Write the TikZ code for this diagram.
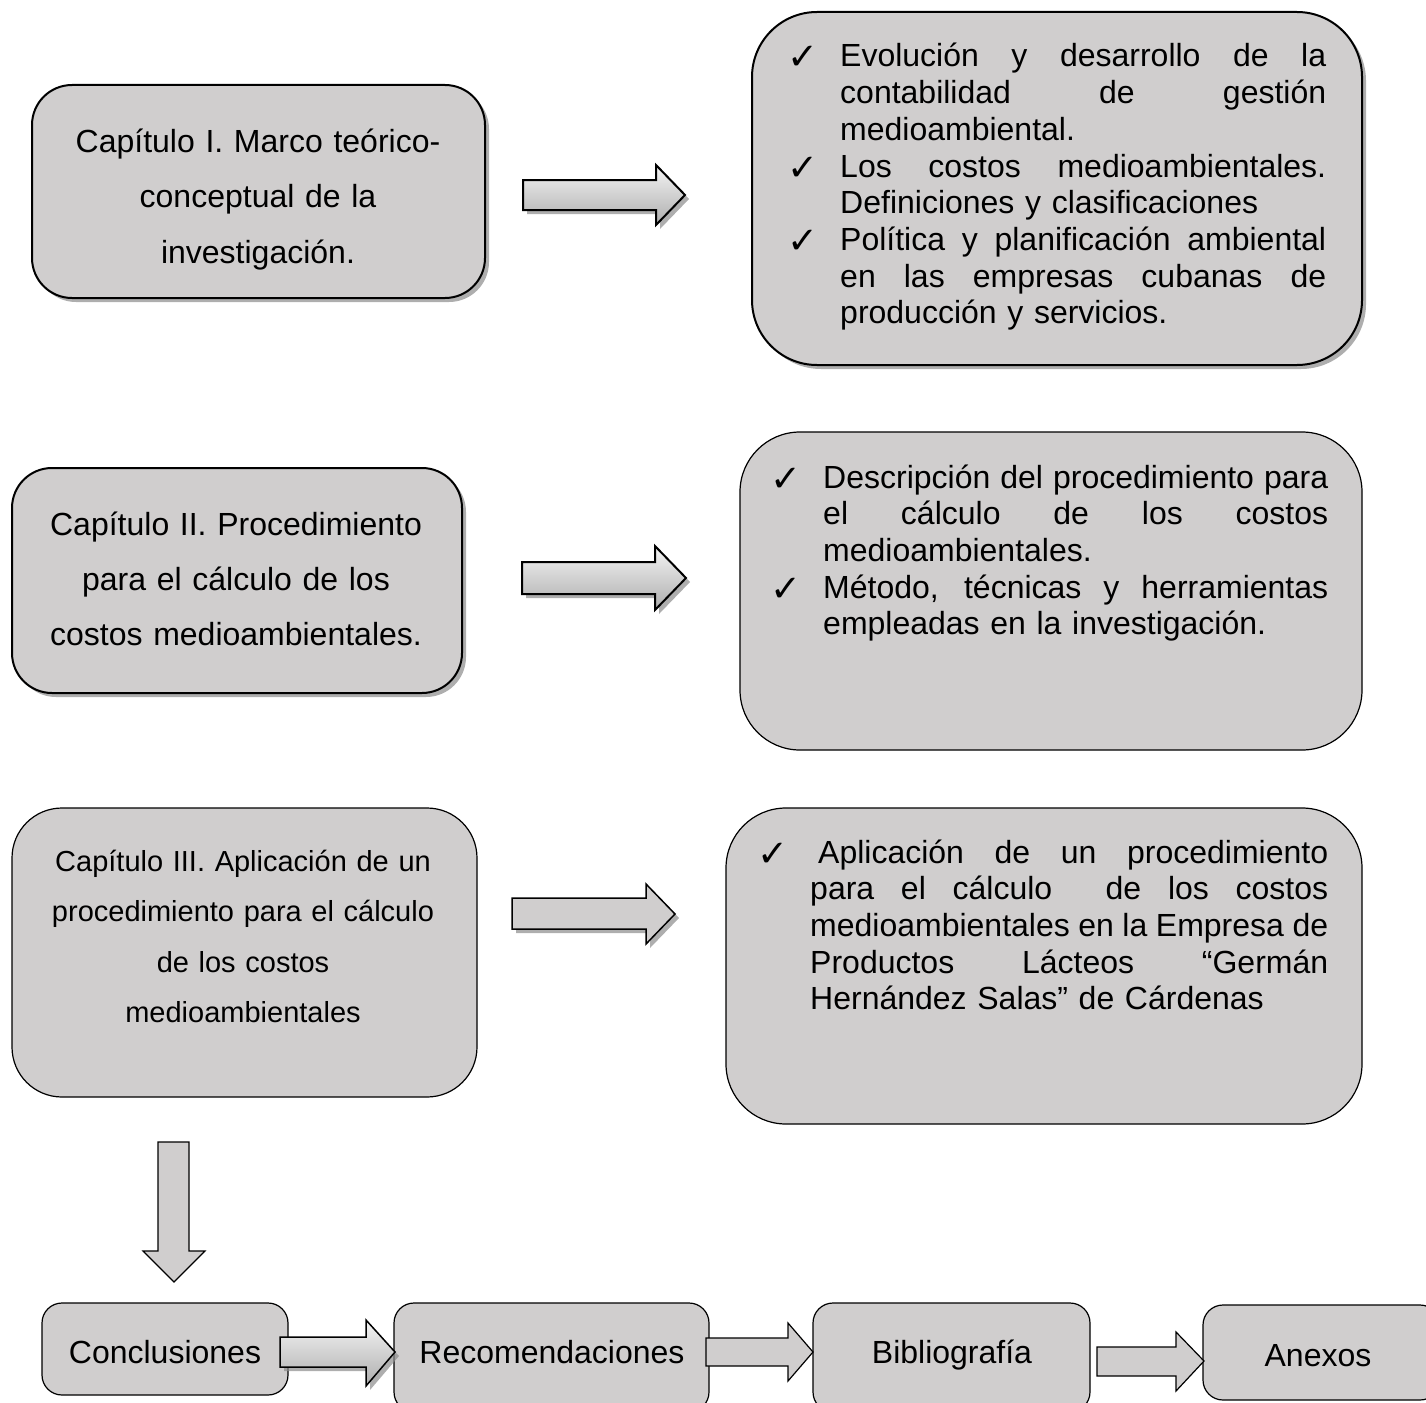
\documentclass[tikz,border=0pt]{standalone}
\usepackage{fontspec}
\setmainfont{Liberation Sans}
\newfontfamily\chkfont{DejaVu Sans}
\usetikzlibrary{shadows}
\definecolor{boxgray}{RGB}{208,206,206}
\newcommand{\chk}{\leavevmode\llap{\raisebox{-3pt}{\chkfont\fontsize{37}{37}\selectfont ✓}\hspace{22pt}}}
\newcommand{\jl}[2]{{\spaceskip=0pt\relax\xspaceskip=0pt\relax\makebox[#1][s]{#2}}}
\tikzset{
  shadowed/.style={drop shadow={shadow xshift=4pt, shadow yshift=-4pt, fill=black!45, opacity=.7}},
  thickbox/.style={draw=black, line width=2pt, fill=boxgray, inner sep=0pt, shadowed},
  thinbox/.style={draw=black, line width=1.2pt, fill=boxgray, inner sep=0pt},
  bigtxt/.style={inner sep=0pt, font=\fontsize{32}{36.7}\selectfont},
  gradarrow/.style={draw=black, line width=2pt, top color=white!96!black, bottom color=black!32, shadowed},
  flatarrowS/.style={draw=black, line width=1.5pt, fill=boxgray, shadowed},
  flatarrow/.style={draw=black, line width=1.2pt, fill=boxgray}
}
\begin{document}
\begin{tikzpicture}[x=1pt,y=-1pt]
\useasboundingbox (0,0) rectangle (1426,1402);

% boxes
\node[thickbox, rounded corners=40pt, minimum width=453pt, minimum height=213pt] (c1) at (258.5,191.5) {};
\node[thickbox, rounded corners=65pt, minimum width=610pt, minimum height=353pt] (d1) at (1057,188.5) {};
\node[thickbox, rounded corners=40pt, minimum width=450pt, minimum height=225pt] (c2) at (237,580.5) {};
\node[thinbox, rounded corners=60pt, minimum width=622pt, minimum height=318pt] (d2) at (1051,591) {};
\node[thinbox, rounded corners=50pt, minimum width=465pt, minimum height=289pt] (c3) at (244.5,952.5) {};
\node[thinbox, rounded corners=60pt, minimum width=636pt, minimum height=316pt] (d3) at (1044,966) {};
\node[thinbox, rounded corners=20pt, minimum width=246pt, minimum height=92pt] (conc) at (165,1349) {};
\node[thinbox, rounded corners=20pt, minimum width=315pt, minimum height=109pt] (rec) at (551.5,1357.5) {};
\node[thinbox, rounded corners=20pt, minimum width=277pt, minimum height=109pt] (bib) at (951.5,1357.5) {};
\node[thinbox, rounded corners=20pt, minimum width=237pt, minimum height=95pt] (anx) at (1321.5,1352.5) {};

% texts
\node[bigtxt, text width=453pt, align=center, anchor=base, font=\fontsize{32}{55.5}\selectfont] (t1) at (258,152)
  {Capítulo I. Marco teórico-\\conceptual de la\\investigación.};
\node[bigtxt, text width=450pt, align=center, anchor=base, font=\fontsize{32}{55}\selectfont] (t2) at (236,535)
  {Capítulo II. Procedimiento\\para el cálculo de los\\costos medioambientales.};
\node[bigtxt, text width=465pt, align=center, anchor=base, font=\fontsize{29}{50.5}\selectfont] (t3) at (243,871)
  {Capítulo III. Aplicación de un\\procedimiento para el cálculo\\de los costos\\medioambientales};

\node[bigtxt, text width=486pt, align=left, anchor=base west] (u1) at (840,67)
  {\chk\jl{486pt}{Evolución y desarrollo de la}\\
   \jl{486pt}{contabilidad de gestión}\\
   medioambiental.\\
   \chk\jl{486pt}{Los costos medioambientales.}\\
   Definiciones y clasificaciones\\
   \chk\jl{486pt}{Política y planificación ambiental}\\
   \jl{486pt}{en las empresas cubanas de}\\
   producción y servicios.};
\node[bigtxt, text width=505pt, align=left, anchor=base west] (u2) at (823,488)
  {\chk\jl{505pt}{Descripción del procedimiento para}\\
   \jl{505pt}{el cálculo de los costos}\\
   medioambientales.\\
   \chk\jl{505pt}{Método, técnicas y herramientas}\\
   empleadas en la investigación.};
\node[bigtxt, text width=518pt, align=left, anchor=base west] (u3) at (810,863)
  {\chk\hspace{8pt}\jl{510pt}{Aplicación de un procedimiento}\\
   \jl{518pt}{para el cálculo~ de los costos}\\
   \jl{518pt}{medioambientales en la Empresa de}\\
   \jl{518pt}{Productos Lácteos “Germán}\\
   Hernández Salas” de Cárdenas};

\node[bigtxt, anchor=base] (tc) at (165,1363) {Conclusiones};
\node[bigtxt, anchor=base] (tr) at (552,1363) {Recomendaciones};
\node[bigtxt, anchor=base] (tb) at (952,1363) {Bibliografía};
\node[bigtxt, anchor=base] (ta) at (1318,1366) {Anexos};

% block arrows
\draw[gradarrow] (523,180) -- (656,180) -- (656,165) -- (685,195) -- (656,225) -- (656,210) -- (523,210) -- cycle;
\draw[gradarrow] (522,562) -- (655,562) -- (655,546) -- (686,578) -- (655,610) -- (655,594) -- (522,594) -- cycle;
\draw[flatarrowS] (512,898) -- (646,898) -- (646,884) -- (675,914) -- (646,944) -- (646,929) -- (512,929) -- cycle;
\draw[flatarrow] (158,1142) -- (189,1142) -- (189,1251) -- (205,1251) -- (174,1282) -- (143,1251) -- (158,1251) -- cycle;
\draw[gradarrow, line width=1.5pt] (280,1337) -- (366,1337) -- (366,1320) -- (395,1352) -- (366,1386) -- (366,1367) -- (280,1367) -- cycle;
\draw[flatarrow] (706,1338) -- (788,1338) -- (788,1323) -- (813,1352) -- (788,1381) -- (788,1366) -- (706,1366) -- cycle;
\draw[flatarrow] (1097,1347) -- (1176,1347) -- (1176,1332) -- (1204,1361) -- (1176,1391) -- (1176,1376) -- (1097,1376) -- cycle;
\end{tikzpicture}
\end{document}
